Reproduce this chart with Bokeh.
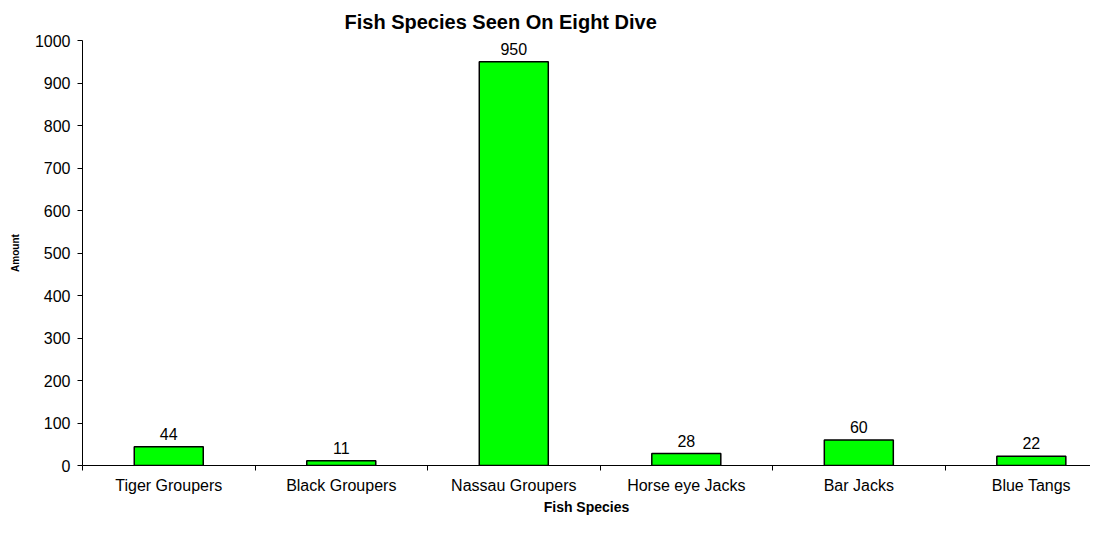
from bokeh.plotting import figure
from bokeh.models import (ColumnDataSource, Range1d, FixedTicker, SingleIntervalTicker,
                          LinearAxis, Title)
from bokeh.embed import file_html
from bokeh.resources import INLINE
from bokeh.core.properties import value
import numpy as np

species = ["Tiger Groupers", "Black Groupers", "Nassau Groupers",
           "Horse eye Jacks", "Bar Jacks", "Blue Tangs"]
amounts = [44, 11, 950, 28, 60, 22]

FONT = "Liberation Sans"

centers = np.arange(len(species)) + 0.5
src = ColumnDataSource(dict(x=centers, top=amounts,
                            lbl=[str(a) for a in amounts]))

p = figure(width=1090, height=526, output_backend="svg", toolbar_location=None,
           x_range=Range1d(0, 5.843), y_range=Range1d(0, 1000),
           x_axis_type=None, y_axis_type=None,
           min_border_left=82, min_border_right=0, min_border_top=10,
           min_border_bottom=61)
p.outline_line_color = None
p.xgrid.visible = False
p.ygrid.visible = False
p.background_fill_color = "white"
p.border_fill_color = "white"

p.title = Title(text="Fish Species Seen On Eight Dive", align="left", offset=262,
                text_font=FONT, text_font_size="20px", text_font_style="bold",
                text_color="black", standoff=16)

# y axis
yax = LinearAxis(ticker=SingleIntervalTicker(interval=100, num_minor_ticks=0),
                 axis_label="Amount")
yax.axis_line_color = "black"
yax.major_tick_line_color = "black"
yax.major_tick_out = 5
yax.major_tick_in = 0
yax.minor_tick_line_color = None
yax.major_label_standoff = 7
yax.major_label_text_font = FONT
yax.major_label_text_font_size = "16px"
yax.major_label_text_color = "black"
yax.axis_label_text_font = FONT
yax.axis_label_text_font_size = "10px"
yax.axis_label_text_font_style = "bold"
yax.axis_label_text_color = "black"
yax.axis_label_standoff = 11
p.add_layout(yax, "left")

# x axis: labels at category centres, ticks at category boundaries
xax = LinearAxis(ticker=FixedTicker(ticks=list(centers),
                                    minor_ticks=list(range(len(species) + 1))),
                 axis_label="Fish Species")
xax.major_label_overrides = {float(c): s for c, s in zip(centers, species)}
xax.axis_line_color = "black"
xax.major_tick_line_color = None
xax.major_tick_out = 0
xax.major_tick_in = 0
xax.minor_tick_line_color = "black"
xax.minor_tick_out = 5
xax.minor_tick_in = 0
xax.major_label_standoff = 6
xax.major_label_text_font = FONT
xax.major_label_text_font_size = "16px"
xax.major_label_text_color = "black"
xax.axis_label_text_font = FONT
xax.axis_label_text_font_size = "14px"
xax.axis_label_text_font_style = "bold"
xax.axis_label_text_color = "black"
xax.axis_label_standoff = 2
p.add_layout(xax, "below")

p.vbar(x="x", top="top", width=0.4, bottom=0, source=src,
       fill_color="#00FF00", line_color="black", line_width=1.5)

p.text(x="x", y="top", text="lbl", source=src, text_align="center",
       text_baseline="bottom", y_offset=-7, text_font=value(FONT),
       text_font_size="16px", text_color="black")

open("out.html", "w").write(file_html(p, INLINE))
